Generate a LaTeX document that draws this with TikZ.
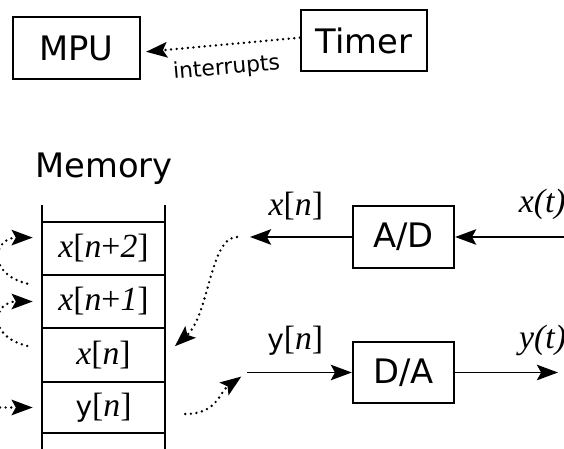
\documentclass[tikz,border=0pt]{standalone}
\usepackage{fontspec}
\setmainfont{Liberation Serif}
\setsansfont{DejaVu Sans}
\usetikzlibrary{arrows.meta}

\begin{document}
\begin{tikzpicture}[
	blk/.style = {draw, line width = 1.6pt, inner sep = 0pt, font = \sffamily\fontsize{24}{28}\selectfont},
	cell/.style = {minimum width = 3.075cm, minimum height = 1.325cm, inner sep = 0pt, font = \fontsize{24}{28}\selectfont},
	lbl/.style = {font = \fontsize{24}{28}\selectfont},
	sig/.style = {line width = 1.4pt, -{Stealth[length = 15pt, width = 11pt, inset = 3pt]}},
	dots/.style = {line width = 1.9pt, line cap = round, dash pattern = on 0pt off 4pt, -{Stealth[length = 15pt, width = 11pt, inset = 3pt]}}]
		\useasboundingbox (0, 0) rectangle (14.1, 11.225);
		%%%%%%%%%%%%%
		\node[blk, minimum width = 3.175cm, minimum height = 1.55cm] (mpu) at (1.9125, 10.025) {MPU};
		\node[blk, minimum width = 3.15cm, minimum height = 1.525cm] (timer) at (9.1, 10.2125) {Timer};
		\node[blk, minimum width = 2.525cm, minimum height = 1.55cm] (ad) at (10.0875, 5.3) {A/D};
		\node[blk, minimum width = 2.525cm, minimum height = 1.525cm] (da) at (10.0875, 1.9125) {D/A};
		%%%%%%%%%%%%%
		\node[anchor = base, font = \sffamily\fontsize{24}{28}\selectfont] (mem) at (2.6, 6.775) {Memory};
		\draw[line width = 1.3pt] (1.05, 6.1) -- (1.05, 0) (4.125, 6.1) -- (4.125, 0);
		\foreach \y in {5.675, 4.35, 3.025, 1.675, 0.4}
			\draw[line width = 1.3pt] (1.05, \y) -- (4.125, \y);
		\node[cell] (cellx2) at (2.5875, 5.0125) {\textit{x}[\textit{n}+\textit{2}]};
		\node[cell] (cellx1) at (2.5875, 3.6875) {\textit{x}[\textit{n}+\textit{1}]};
		\node[cell] (cellx) at (2.5875, 2.35) {\textit{x}[\textit{n}]};
		\node[cell] (celly) at (2.5875, 1.0375) {{\sffamily\fontsize{20}{24}\selectfont y}[\textit{n}]};
		%%%%%%%%%%%%%
		\coordinate (xin) at (14.1, 5.3);
		\coordinate (xout) at (6.25, 5.3);
		\coordinate (yin) at (6.175, 1.9125);
		\coordinate (yout) at (13.95, 1.9125);
		\coordinate (yfeed) at (0, 1.0375);
		%%%%%%%%%%%%%
		\draw[dots, shorten >= 0.125cm] ([yshift = 2pt]timer.west) -- ([yshift = -3pt]mpu.east)
			node[pos = 0.475, below = 5pt, sloped, font = \sffamily\fontsize{15.5}{18}\selectfont] {interrupts};
		\draw[sig] (xin) -- (ad) node[pos = 0.2, above = 8pt, lbl] {\textit{x(t)}};
		\draw[sig] (ad) -- (xout) node[pos = 0.55, above = 8pt, lbl] {\textit{x}[\textit{n}]};
		\draw[sig] (yin) -- (da) node[pos = 0.46, above = 8pt, lbl] {{\sffamily\fontsize{20}{24}\selectfont y}[\textit{n}]};
		\draw[sig] (da) -- (yout) node[pos = 0.85, above = 8pt, lbl] {\textit{y(t)}};
		%%%%%%%%%%%%%
		\draw[dots, shorten <= 0.325cm, shorten >= 0.325cm] (xout) .. controls +(-1, 0) and +(1.1, 1) .. (cellx.east);
		\draw[dots, shorten <= 0.5cm, shorten >= 0.175cm] (celly.-6) .. controls +(1.3, 0) and +(-0.7, -0.5) .. (yin);
		\draw[dots, shorten <= 0.375cm, shorten >= 0.225cm] (cellx1.167) .. controls +(-1.4, 0.35) and +(-1.2, 0) .. (cellx2.170);
		\draw[dots, shorten <= 0.375cm, shorten >= 0.225cm] (cellx.175) .. controls +(-1.4, 0.35) and +(-1.2, 0) .. (cellx1.west);
		\draw[dots, shorten >= 0.225cm] (yfeed) -- (celly.west);
\end{tikzpicture}
\end{document}
